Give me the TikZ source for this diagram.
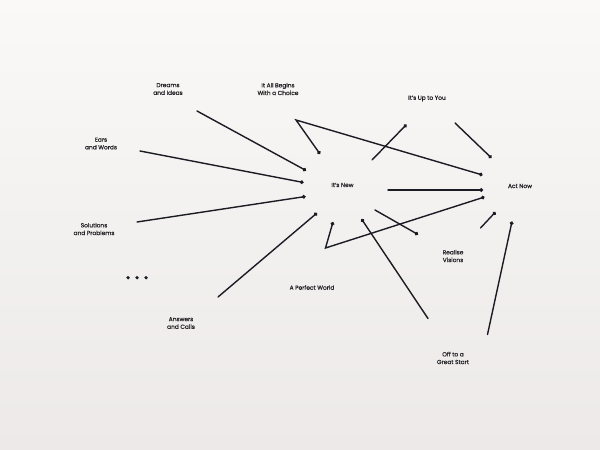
\documentclass[tikz,border=0pt]{standalone}
\usepackage{fontspec}
\setmainfont{Poppins}[FakeBold=0.35]
\usetikzlibrary{arrows.meta}
\definecolor{bgtop}{HTML}{FAF9F7}
\definecolor{bgbot}{HTML}{ECE9E8}
\definecolor{ink}{HTML}{1B1B24}
\definecolor{txt}{HTML}{1F1F24}
\begin{document}
\begin{tikzpicture}[x=1bp,y=-1bp,
  lbl/.style={text=txt,font=\fontsize{5.9}{7.7}\selectfont,align=center,inner sep=0pt},
  conn/.style={draw=ink,line width=1.4bp,line cap=round},
  dotted end/.style={conn,-{Circle[length=3.6bp]}},
  dotted both/.style={conn,{Circle[length=3.6bp]}-{Circle[length=3.6bp]}},
  dotmark/.style={circle,fill=ink,inner sep=0pt,minimum size=3.6bp}]
\useasboundingbox (0,0) rectangle (600,450);
\shade[top color=bgtop,bottom color=bgbot] (0,0) rectangle (600,450);

% labels
\node[lbl] (dreams) at (168,89) {Dreams\\and Ideas};
\node[lbl] (begins) at (278,89) {It All Begins\\With a Choice};
\node[lbl] (upto) at (427,98.5) {It's Up to You};
\node[lbl] (ears) at (101,143.5) {Ears\\and Words};
\node[lbl] (new) at (342.5,185) {It's New};
\node[lbl] (act) at (520,186) {Act Now};
\node[lbl] (sol) at (94,229) {Solutions\\and Problems};
\node[lbl] (perfect) at (312,287.5) {A Perfect World};
\node[lbl] (answers) at (181,323) {Answers\\and Calls};
\node[lbl] (realise) at (453,256) {Realise\\Visions};
\node[lbl] (off) at (453,358) {Off to a\\Great Start};

% ellipsis dots
\node[dotmark] (e1) at (128,277.7) {};
\node[dotmark] (e2) at (137,277.7) {};
\node[dotmark] (e3) at (146,277.7) {};

% connector end points
\coordinate (a1) at (197,111);   \coordinate (a2) at (306,170.5);
\coordinate (b1) at (140,151);   \coordinate (b2) at (303.5,182.5);
\coordinate (c1) at (320,154);   \coordinate (c2) at (296,120);  \coordinate (c3) at (482.5,175);
\coordinate (d1) at (372,160);   \coordinate (d2) at (406.5,124.5);
\coordinate (f1) at (455,123);   \coordinate (f2) at (491.5,158);
\coordinate (g1) at (388,190);   \coordinate (g2) at (483,190);
\coordinate (h1) at (137,222);   \coordinate (h2) at (305.5,196.5);
\coordinate (i1) at (218,297);   \coordinate (i2) at (317,213);
\coordinate (j1) at (333,222);   \coordinate (j2) at (325.5,248); \coordinate (j3) at (484.5,197);
\coordinate (k1) at (375,210);   \coordinate (k2) at (418,234.5);
\coordinate (l1) at (428,318.5); \coordinate (l2) at (361.5,219);
\coordinate (m1) at (480.5,228); \coordinate (m2) at (495.5,212);
\coordinate (n1) at (487.5,334.5); \coordinate (n2) at (512,221.5);

% connectors
\draw[dotted end] (a1) -- (a2);
\draw[dotted end] (b1) -- (b2);
\draw[dotted both] (c1) -- (c2) -- (c3);
\draw[dotted end] (d1) -- (d2);
\draw[dotted end] (f1) -- (f2);
\draw[dotted end] (g1) -- (g2);
\draw[dotted end] (h1) -- (h2);
\draw[dotted end] (i1) -- (i2);
\draw[dotted both] (j1) -- (j2) -- (j3);
\draw[dotted end] (k1) -- (k2);
\draw[dotted end] (l1) -- (l2);
\draw[dotted end] (m1) -- (m2);
\draw[dotted end] (n1) -- (n2);
\end{tikzpicture}
\end{document}
